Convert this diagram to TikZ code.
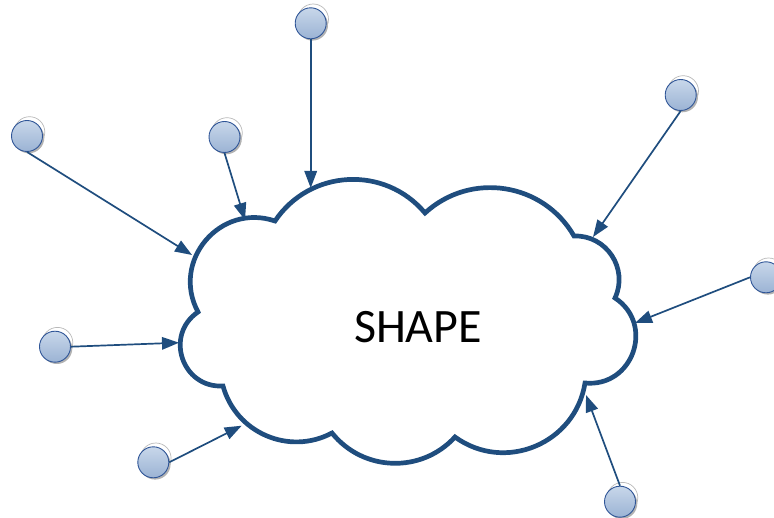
\documentclass[tikz,border=0pt]{standalone}
\usepackage{fontspec}
\setmainfont{Carlito}
\usetikzlibrary{arrows.meta,calc}
\definecolor{cloudblue}{RGB}{31,77,126}
\definecolor{dottop}{RGB}{200,215,234}
\definecolor{dotbot}{RGB}{155,179,212}
\definecolor{dotline}{RGB}{47,85,151}
\begin{document}
\begin{tikzpicture}[x=1pt,y=-1pt,
  cloudline/.style={draw=cloudblue, line width=4.7pt, line join=miter, miter limit=6},
  link/.style={draw=cloudblue, line width=1.7pt, -{Triangle[length=17pt,width=12.5pt]}},
  dot/.style={circle, minimum size=31pt, inner sep=0pt, draw=dotline, line width=0.9pt, top color=dottop, bottom color=dotbot},
  ghost/.style={draw=gray!55, line width=0.7pt},
  shadowdot/.style={fill=gray!60},
  shapetext/.style={font=\fontsize{48}{58}\selectfont, inner sep=0pt}]
\useasboundingbox (0,0) rectangle (774,518);

% cloud
\draw[cloudline] (198,312)
  to[out=68.4,in=111.6,relative,looseness=1.245] (275,221)
  to[out=53.1,in=126.9,relative,looseness=1.065] (425,213)
  to[out=51.3,in=128.7,relative,looseness=1.047] (574,236)
  to[out=58.5,in=121.5,relative,looseness=1.118] (615,298)
  to[out=76.1,in=103.9,relative,looseness=1.368] (585,383)
  to[out=58.5,in=121.5,relative,looseness=1.118] (455,437)
  to[out=49.4,in=130.6,relative,looseness=1.032] (332,433)
  to[out=51.3,in=128.7,relative,looseness=1.047] (223,386)
  to[out=74.5,in=105.5,relative,looseness=1.342] (198,312) -- cycle;

\node[shapetext] (shape) at (418,327) {SHAPE};

% arrow tip points on the cloud
\coordinate (tA) at (192,255);
\coordinate (tB) at (245,220);
\coordinate (tC) at (310.7,188);
\coordinate (tD) at (593,237);
\coordinate (tE) at (635,323);
\coordinate (tF) at (586,395);
\coordinate (tG) at (179,342.7);
\coordinate (tH) at (241.7,425.7);

% circle centres
\coordinate (pA) at (27,136);
\coordinate (pB) at (224.5,137);
\coordinate (pC) at (310.7,23.3);
\coordinate (pD) at (680.7,95);
\coordinate (pE) at (766,277.3);
\coordinate (pF) at (620,501.7);
\coordinate (pG) at (55,346.7);
\coordinate (pH) at (153.3,462.3);

\foreach \p in {pA,pB,pC,pD,pE,pF,pG,pH}{
  \fill[shadowdot] ([shift={(1.8pt,-1.8pt)}]\p) circle[radius=15.5pt];
  \draw[ghost] ([shift={(2.5pt,4pt)}]\p) circle[radius=15.3pt];
}

\node[dot] (A) at (pA) {};
\node[dot] (B) at (pB) {};
\node[dot] (C) at (pC) {};
\node[dot] (D) at (pD) {};
\node[dot] (E) at (pE) {};
\node[dot] (F) at (pF) {};
\node[dot] (G) at (pG) {};
\node[dot] (H) at (pH) {};

\draw[link] (A.south) -- (tA);
\draw[link] (B.south) -- (tB);
\draw[link] (C.south) -- (tC);
\draw[link] (D.south) -- (tD);
\draw[link] (E.west) -- (tE);
\draw[link] (F.north) -- (tF);
\draw[link] (G.east) -- (tG);
\draw[link] (H.east) -- (tH);
\end{tikzpicture}
\end{document}
